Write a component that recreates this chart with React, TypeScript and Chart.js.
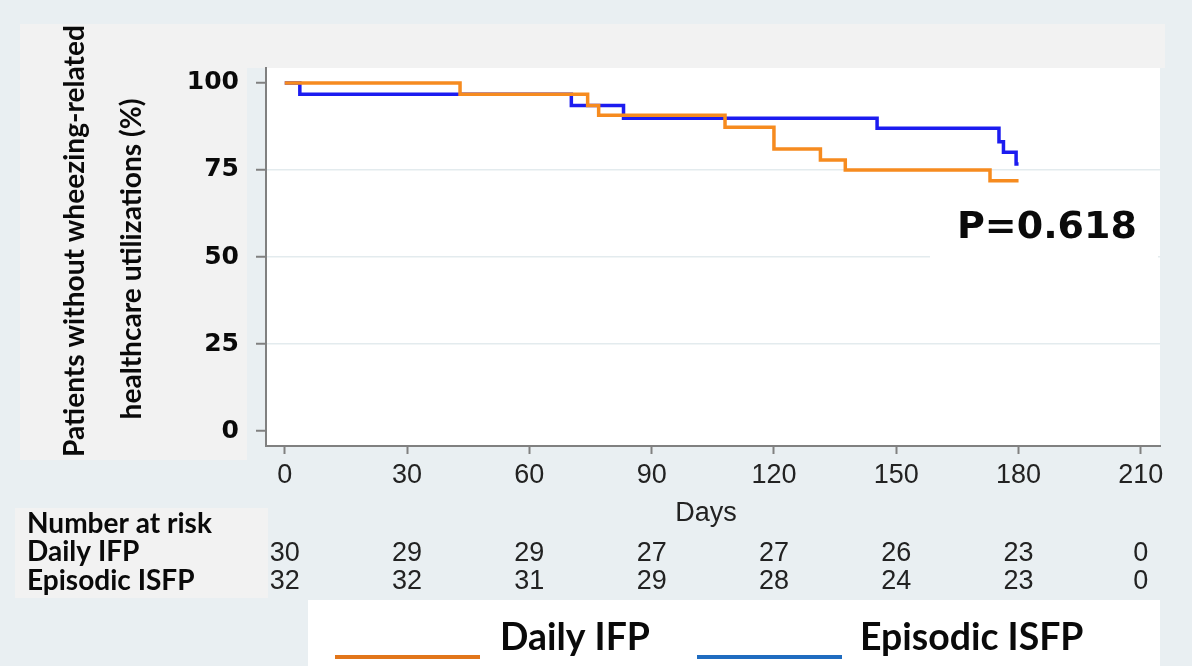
import React, { useEffect, useRef } from "react";
import { Chart, registerables } from "chart.js";

Chart.register(...registerables);

// ---- data ----
const DAY_TICKS = [0, 30, 60, 90, 120, 150, 180, 210];
const PCT_TICKS = [0, 25, 50, 75, 100];

const DAILY_TIMES = [0, 43, 74.3, 77, 108, 120, 131.4, 137.5, 173, 180];
const DAILY_SURV = [100, 96.8, 93.5, 90.7, 87.3, 81.0, 77.9, 75.0, 71.9, 71.9];

const EPISODIC_TIMES = [0, 3.7, 70.3, 83.1, 145.3, 175.2, 176.3, 179.4, 180];
const EPISODIC_SURV = [100, 96.8, 93.5, 89.9, 87.0, 83.1, 80.1, 76.7, 76.7];

const RISK_DAILY = [30, 29, 29, 27, 27, 26, 23, 0];
const RISK_EPISODIC = [32, 32, 31, 29, 28, 24, 23, 0];

const SERIES_NAMES = ["Daily IFP", "Episodic ISFP"];
const Y_TITLE = ["Patients without wheezing-related", "healthcare utilizations (%)"];
const X_TITLE = "Days";
const RISK_TITLE = "Number at risk";
const P_TEXT = "P=0.618";

// ---- styles ----
const ORANGE = "#f68b1f";
const BLUE = "#1c1cf0";
const LEG_ORANGE = "#e2761a";
const LEG_BLUE = "#1f6cc0";
const BG = "#e9eff2";
const PANEL = "#f2f2f2";
const AXIS = "#808080";
const CAL = '"Lato", "Open Sans", sans-serif';
const ARIAL = '"Liberation Sans", Arial, sans-serif';
const VERD = '"DejaVu Sans", Verdana, sans-serif';

function fitSize(ctx: CanvasRenderingContext2D, text: string, weight: string, family: string, width: number) {
  ctx.font = `${weight} 100px ${family}`;
  return (100 * width) / ctx.measureText(text).width;
}

const decor = {
  id: "decor",
  beforeDraw(chart: any) {
    const { ctx, chartArea: a } = chart;
    ctx.save();
    ctx.fillStyle = BG;
    ctx.fillRect(0, 0, chart.width, chart.height);
    ctx.fillStyle = PANEL;
    ctx.fillRect(20, 24, 1145, a.top - 24);
    ctx.fillRect(20, 24, 227, 436);
    ctx.fillRect(15, 508, 253, 90);
    ctx.fillStyle = "#ffffff";
    ctx.fillRect(a.left, a.top, a.right - a.left, a.bottom - a.top);
    ctx.restore();
  },
  afterDraw(chart: any) {
    const { ctx } = chart;
    const xs = chart.scales.x;
    ctx.save();
    // y title
    const ys = fitSize(ctx, Y_TITLE[0], "bold", CAL, 432);
    ctx.font = `bold ${ys}px ${CAL}`;
    ctx.fillStyle = "#0a0a0a";
    ctx.textAlign = "center";
    ctx.textBaseline = "middle";
    ctx.save();
    ctx.translate(75, 241);
    ctx.rotate(-Math.PI / 2);
    ctx.fillText(Y_TITLE[0], 0, 0);
    ctx.restore();
    ctx.save();
    ctx.translate(132, 259);
    ctx.rotate(-Math.PI / 2);
    ctx.fillText(Y_TITLE[1], 0, 0);
    ctx.restore();

    // P value box
    ctx.fillStyle = "#ffffff";
    ctx.fillRect(930, 198, 228, 66);
    ctx.fillStyle = "#0a0a0a";
    ctx.textAlign = "left";
    ctx.textBaseline = "alphabetic";
    ctx.font = `bold 38px ${VERD}`;
    ctx.fillText(P_TEXT, 957, 238);

    // x title
    ctx.font = `27px ${ARIAL}`;
    ctx.fillStyle = "#222";
    ctx.textAlign = "center";
    ctx.textBaseline = "middle";
    ctx.fillText(X_TITLE, 706, 514);

    // risk table
    const ts = fitSize(ctx, RISK_TITLE, "bold", CAL, 185);
    ctx.font = `bold ${ts}px ${CAL}`;
    ctx.fillStyle = "#0a0a0a";
    ctx.textAlign = "left";
    ctx.fillText(RISK_TITLE, 27, 524);
    ctx.fillText(SERIES_NAMES[0], 27, 552);
    ctx.fillText(SERIES_NAMES[1], 27, 581);
    ctx.font = `27px ${ARIAL}`;
    ctx.fillStyle = "#222";
    ctx.textAlign = "center";
    DAY_TICKS.forEach((d, i) => {
      const px = xs.getPixelForValue(d);
      ctx.fillText(String(RISK_DAILY[i]), px, 554);
      ctx.fillText(String(RISK_EPISODIC[i]), px, 582);
    });

    // legend
    ctx.fillStyle = "#ffffff";
    ctx.fillRect(308, 600, 852, 66);
    ctx.lineWidth = 4;
    ctx.strokeStyle = LEG_ORANGE;
    ctx.beginPath();
    ctx.moveTo(335, 657);
    ctx.lineTo(480, 657);
    ctx.stroke();
    ctx.strokeStyle = LEG_BLUE;
    ctx.beginPath();
    ctx.moveTo(697, 657);
    ctx.lineTo(842, 657);
    ctx.stroke();
    const ls = fitSize(ctx, SERIES_NAMES[0], "bold", CAL, 150);
    ctx.font = `bold ${ls}px ${CAL}`;
    ctx.fillStyle = "#0a0a0a";
    ctx.textAlign = "left";
    ctx.textBaseline = "alphabetic";
    ctx.fillText(SERIES_NAMES[0], 500, 650);
    ctx.fillText(SERIES_NAMES[1], 860, 650);
    ctx.restore();
  },
};

export default function App() {
  const ref = useRef<HTMLCanvasElement>(null);
  useEffect(() => {
    document.body.style.margin = "0";
    const canvas = ref.current!;
    const chart = new Chart(canvas, {
      type: "line",
      data: {
        datasets: [
          {
            label: SERIES_NAMES[0],
            data: DAILY_TIMES.map((t, i) => ({ x: t, y: DAILY_SURV[i] })),
            borderColor: ORANGE,
            borderWidth: 3.5,
            stepped: "before",
            pointRadius: 0,
            fill: false,
          },
          {
            label: SERIES_NAMES[1],
            data: EPISODIC_TIMES.map((t, i) => ({ x: t, y: EPISODIC_SURV[i] })),
            borderColor: BLUE,
            borderWidth: 3.5,
            stepped: "before",
            pointRadius: 0,
            fill: false,
          },
        ],
      },
      options: {
        animation: false,
        responsive: false,
        devicePixelRatio: 1,
        layout: { padding: { left: 0, top: 68, right: 32, bottom: 0 } },
        plugins: { legend: { display: false }, tooltip: { enabled: false } },
        scales: {
          x: {
            type: "linear",
            min: -4.6,
            max: 214.7,
            afterBuildTicks: (s: any) => {
              s.ticks = DAY_TICKS.map((v) => ({ value: v }));
            },
            afterFit: (s: any) => {
              s.height = 220;
              s.paddingLeft = 0;
              s.paddingRight = 0;
            },
            grid: { drawOnChartArea: false, drawTicks: true, tickLength: 8, tickColor: AXIS, tickWidth: 2 },
            border: { color: AXIS, width: 2 },
            ticks: { font: { family: ARIAL, size: 27 }, color: "#222", padding: 5, maxRotation: 0, autoSkip: false },
          },
          y: {
            type: "linear",
            min: -4.31,
            max: 104.31,
            afterBuildTicks: (s: any) => {
              s.ticks = PCT_TICKS.map((v) => ({ value: v }));
            },
            afterFit: (s: any) => {
              s.width = 266;
              s.paddingTop = 0;
              s.paddingBottom = 0;
            },
            grid: {
              color: (c: any) => ([25, 50, 75].includes(c.tick?.value) ? "#e3ebee" : "rgba(0,0,0,0)"),
              lineWidth: 1.5,
              tickLength: 10,
              tickColor: AXIS,
              tickWidth: 2,
            },
            border: { color: AXIS, width: 2 },
            ticks: { font: { family: VERD, size: 25, weight: "bold" }, color: "#0a0a0a", padding: 17, autoSkip: false },
          },
        },
      },
      plugins: [decor],
    });
    return () => chart.destroy();
  }, []);
  return (
    <div style={{ position: "absolute", left: 0, top: 0, width: 1192, height: 666 }}>
      <canvas ref={ref} width={1192} height={666} style={{ display: "block", width: 1192, height: 666 }} />
    </div>
  );
}
